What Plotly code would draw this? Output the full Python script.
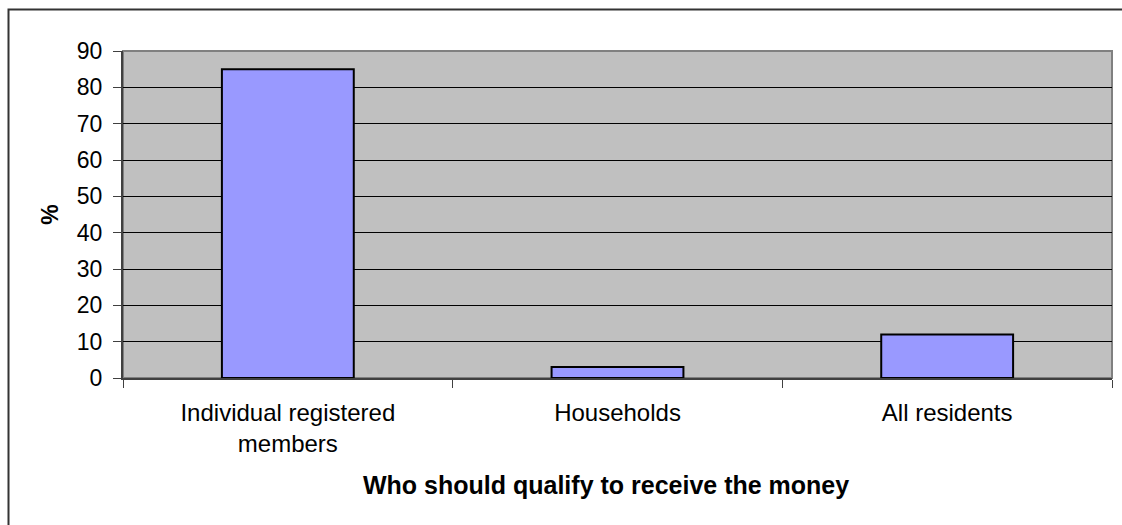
import plotly.graph_objects as go

categories = ["Individual registered<br>members", "Households", "All residents"]
values = [85, 3, 12]
y_ticks = [0, 10, 20, 30, 40, 50, 60, 70, 80, 90]
x_title = "Who should qualify to receive the money"
y_title = "%"

L, R, T, B = 123, 10, 51, 147
W, H = 1122, 525
pw = W - L - R
ph = H - T - B
bottom_px = H - B  # pixel y of plot bottom


def py(pix):
    return (bottom_px - pix) / ph


def px(pix):
    return (pix - L) / pw


fig = go.Figure()
fig.add_trace(go.Bar(
    x=categories, y=values,
    marker=dict(color="#9999FF", line=dict(color="black", width=2)),
    width=0.4,
))

fig.update_layout(
    width=W, height=H,
    margin=dict(l=L, r=R, t=T, b=B, pad=0),
    paper_bgcolor="white",
    plot_bgcolor="#C0C0C0",
    showlegend=False,
    font=dict(family="Liberation Sans, Arial", size=23, color="black"),
    xaxis=dict(
        type="category",
        tickson="boundaries",
        ticks="outside", ticklen=8, tickcolor="#404040", tickwidth=1,
        showgrid=False,
        showline=True, linecolor="#404040", linewidth=2,
        tickfont=dict(size=24),
        ticklabelstandoff=12,
    ),
    yaxis=dict(
        range=[0, 90],
        tickvals=y_ticks,
        ticks="outside", ticklen=8, tickcolor="#404040", tickwidth=1,
        showgrid=True, gridcolor="black", gridwidth=1,
        showline=True, linecolor="#404040", linewidth=2,
        zeroline=False,
        tickfont=dict(size=23),
        ticklabelstandoff=6,
        title=dict(text="<b>" + y_title + "</b>", font=dict(size=23), standoff=12),
    ),
    annotations=[
        dict(text="<b>" + x_title + "</b>", xref="paper", yref="paper",
             x=px(605.5), y=py(485), xanchor="center", yanchor="middle",
             showarrow=False, font=dict(size=25)),
    ],
    shapes=[
        dict(type="rect", xref="paper", yref="paper",
             x0=0, x1=1, y0=0, y1=1,
             line=dict(color="#808080", width=2), layer="below"),
        dict(type="rect", xref="paper", yref="paper",
             x0=px(8.5), x1=px(W + 10),
             y0=py(H + 10), y1=py(9.5),
             line=dict(color="#333333", width=2), layer="above"),
    ],
)

fig.write_html(
    "out.html",
    config={"displayModeBar": False},
    post_script="document.body.style.margin='0';document.body.style.overflow='hidden';",
)
